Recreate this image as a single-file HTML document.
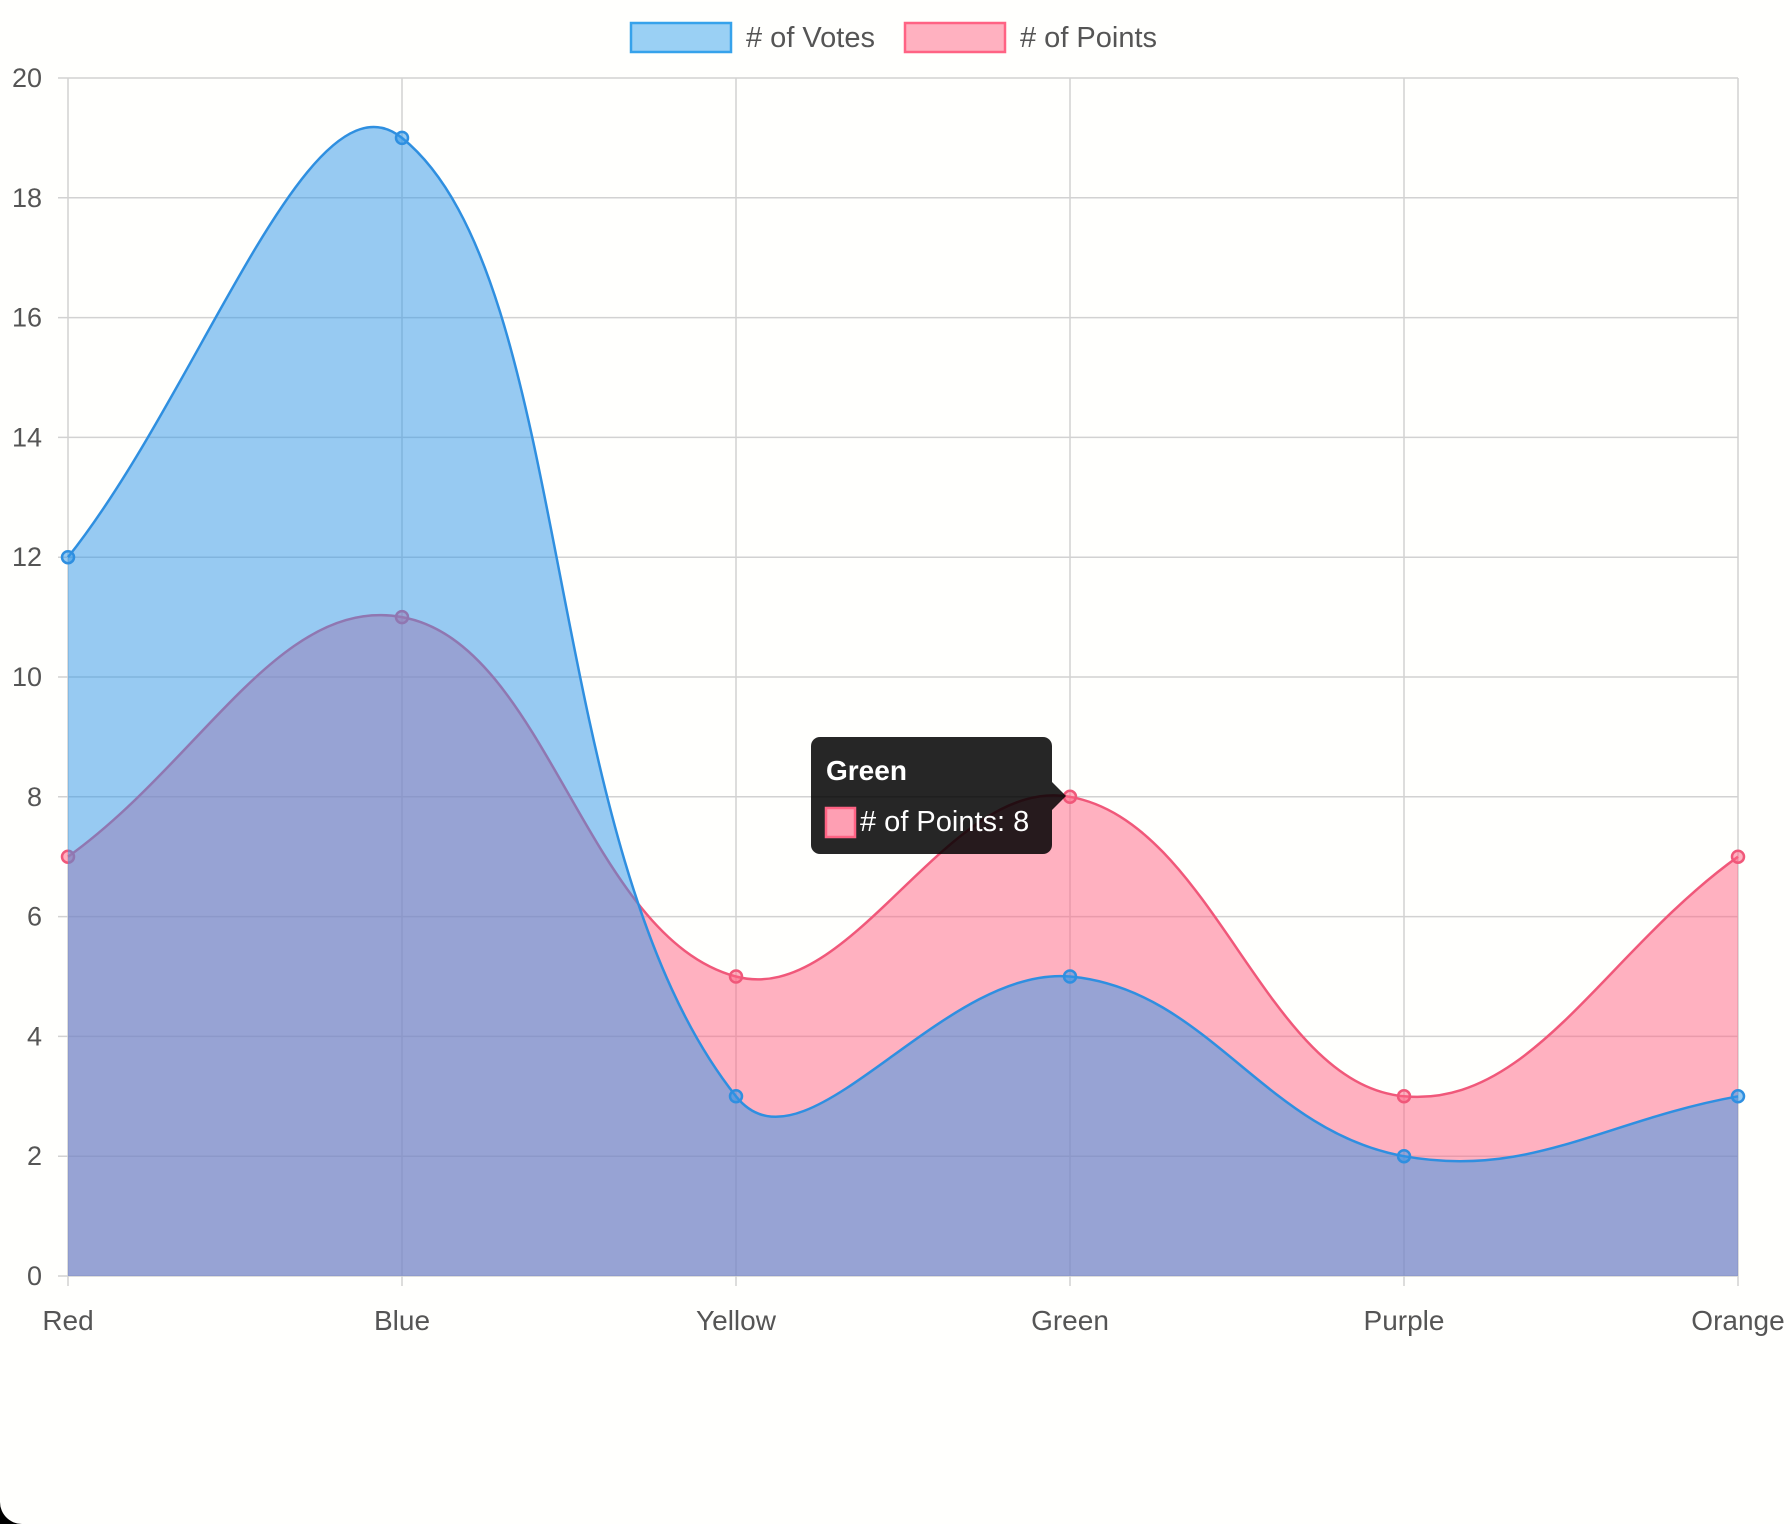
<!DOCTYPE html>
<html><head><meta charset="utf-8"><style>
html,body{margin:0;padding:0;background:#000;}
#wrap{position:relative;width:1790px;height:1524px;background:#fffffd;border-bottom-left-radius:22px;overflow:hidden;}
svg{position:absolute;left:0;top:0;font-family:"Liberation Sans",sans-serif;}
</style></head><body>
<div id="wrap">
<svg id="chart" width="1790" height="1524"></svg>
</div>
<script>
const categories = ["Red","Blue","Yellow","Green","Purple","Orange"];
const votes = [12,19,3,5,2,3];
const points = [7,11,5,8,3,7];
const yTicks = [0,2,4,6,8,10,12,14,16,18,20];
const seriesNames = ["# of Votes","# of Points"];

const NS="http://www.w3.org/2000/svg";
const svg=document.getElementById('chart');
const L=68,R=1738,T=78,B=1276,yMax=20;
function x(i){return L+(R-L)*i/(categories.length-1);}
function y(v){return B-(B-T)*v/yMax;}
function mk(tag,attrs,parent){const e=document.createElementNS(NS,tag);for(const k in attrs)e.setAttribute(k,attrs[k]);(parent||svg).appendChild(e);return e;}

yTicks.forEach(t=>{
  const g=mk('line',{x1:L-10,x2:R,y1:y(t),y2:y(t),stroke:'#d2d2d2','stroke-width':1.5});
  
  
  const tx=mk('text',{x:L-26,y:y(t)+9,'text-anchor':'end','font-size':27,fill:'#555'});
  tx.textContent=t;
  
  
});
categories.forEach((c,i)=>{
  const g=mk('line',{x1:x(i),x2:x(i),y1:T,y2:B+10,stroke:'#d2d2d2','stroke-width':1.5});
  
  
  const tx=mk('text',{x:x(i),y:1330,'text-anchor':'middle','font-size':28,fill:'#555'});
  tx.textContent=c;
  
  
});

function curve(vals){
  const pts=vals.map((v,i)=>[x(i),y(v)]);const t=0.4;const cps=[];
  for(let i=0;i<pts.length;i++){
    const p=pts[Math.max(0,i-1)],c=pts[i],n=pts[Math.min(pts.length-1,i+1)];
    const d01=Math.hypot(c[0]-p[0],c[1]-p[1]),d12=Math.hypot(n[0]-c[0],n[1]-c[1]);
    let fa=d01/(d01+d12)||0,fb=d12/(d01+d12)||0;fa*=t;fb*=t;
    cps.push({p:[c[0]-fa*(n[0]-p[0]),c[1]-fa*(n[1]-p[1])],n:[c[0]+fb*(n[0]-p[0]),c[1]+fb*(n[1]-p[1])]});
  }
  let d=`M${pts[0][0]},${pts[0][1]}`;
  for(let i=1;i<pts.length;i++){d+=` C${cps[i-1].n[0]},${cps[i-1].n[1]} ${cps[i].p[0]},${cps[i].p[1]} ${pts[i][0]},${pts[i][1]}`;}
  return {d,pts};
}
function series(vals,fill,stroke,name){
  const c=curve(vals);
  const a=mk('path',{d:c.d+` L${R},${B} L${L},${B} Z`,fill:fill});
  
  
  const l=mk('path',{d:c.d,fill:'none',stroke:stroke,'stroke-width':2.5});
  
  
  c.pts.forEach(p=>{
    const pt=mk('circle',{cx:p[0],cy:p[1],r:6,fill:fill,stroke:stroke,'stroke-width':2.5});
    
    
  });
}
series(points,'rgba(255,99,132,0.5)','#f0587a','points');
series(votes,'rgba(48,150,232,0.5)','#2f8fe0','votes');

const lg=[[631,'rgba(54,162,235,0.5)','#36a2eb',746,seriesNames[0]],[905,'rgba(255,99,132,0.5)','#ff6384',1020,seriesNames[1]]];
lg.forEach(e=>{
  const b=mk('rect',{x:e[0],y:23,width:100,height:29,fill:e[1],stroke:e[2],'stroke-width':2.5});
  
  
  const tx=mk('text',{x:e[3],y:47,'font-size':29,fill:'#555'});
  tx.textContent=e[4];
  
  
});

const tg=mk('g',{});


mk('rect',{x:811,y:737,width:241,height:117,rx:9,fill:'rgba(0,0,0,0.85)'},tg);
mk('path',{d:'M1052,782 L1066,796 L1052,810 Z',fill:'rgba(0,0,0,0.85)'},tg);
const tt=mk('text',{x:826,y:780,'font-size':28,'font-weight':'bold',fill:'#fff'},tg);tt.textContent='Green';
mk('rect',{x:826,y:808,width:29,height:29,fill:'#fe9fb3',stroke:'#ff6384','stroke-width':2.5},tg);
const tb=mk('text',{x:860,y:831,'font-size':29,fill:'#fff'},tg);tb.textContent='# of Points: 8';
</script>
</body></html>
